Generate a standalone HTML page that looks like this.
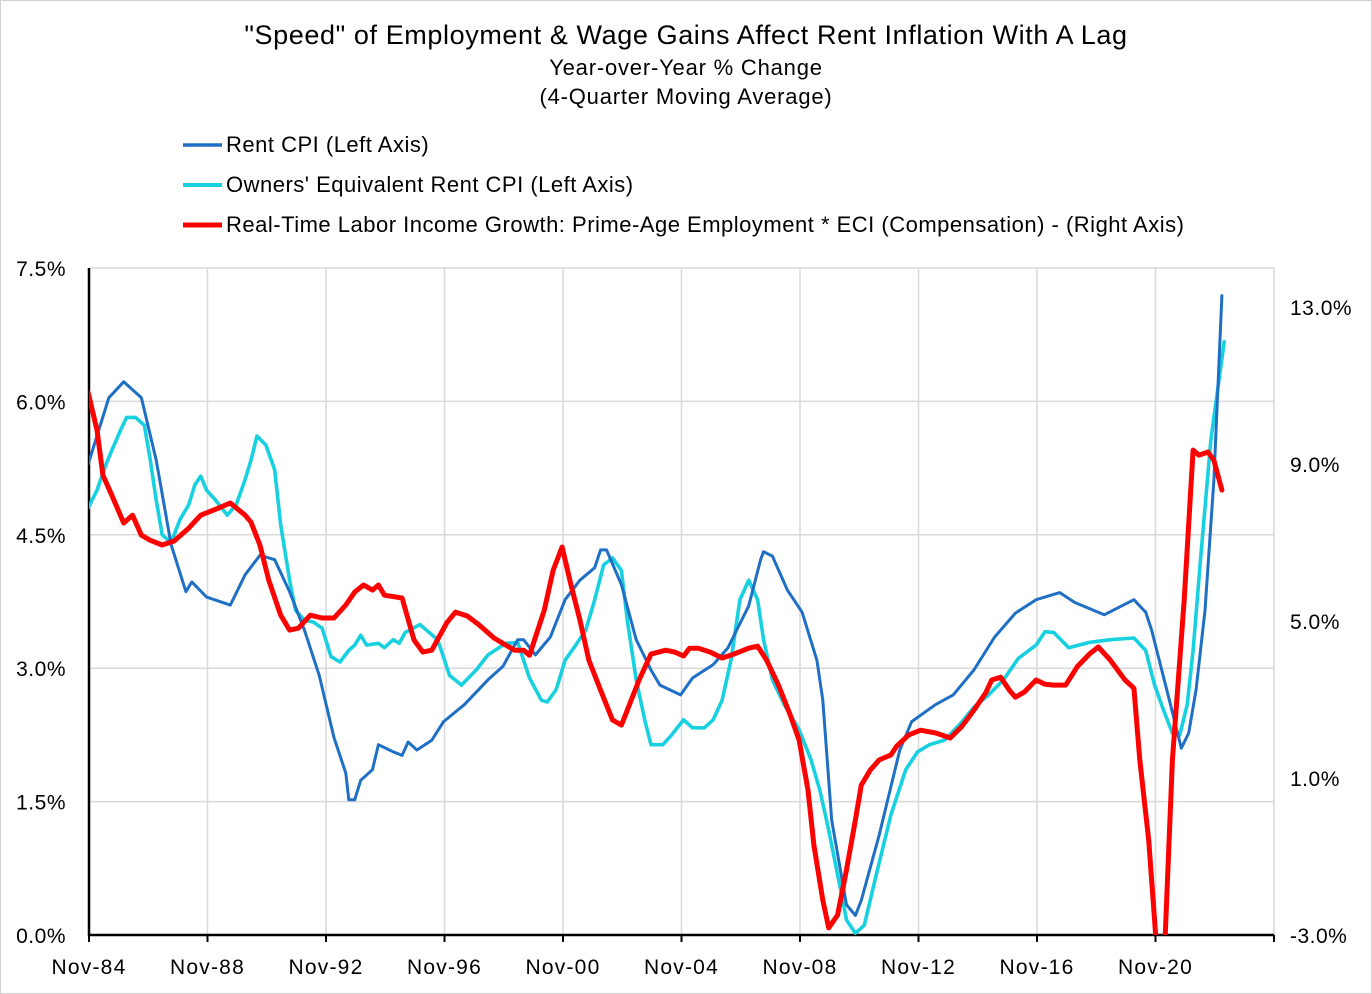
<!DOCTYPE html>
<html><head><meta charset="utf-8"><style>
html,body{margin:0;padding:0;background:#fff;}
body{width:1372px;height:994px;overflow:hidden;position:relative;font-family:"Liberation Sans",sans-serif;}
#frame{position:absolute;left:0;top:0;width:1372px;height:994px;box-sizing:border-box;border:1px solid #d0d0d0;}
svg text{font-family:"Liberation Sans",sans-serif;fill:#000;}
</style></head><body>
<div id="frame"></div>
<svg id="chart" width="1372" height="994" style="position:absolute;left:0;top:0">
<text x="686" y="44" text-anchor="middle" font-size="27" letter-spacing="0.6">"Speed" of Employment &amp; Wage Gains Affect Rent Inflation With A Lag</text>
<text x="686" y="75" text-anchor="middle" font-size="22" letter-spacing="0.8">Year-over-Year % Change</text>
<text x="686" y="104" text-anchor="middle" font-size="22" letter-spacing="0.8">(4-Quarter Moving Average)</text>
<g>
<g><line x1="183" y1="145" x2="222" y2="145" stroke="#1f6fc5" stroke-width="3.5"/><text x="226" y="152" font-size="22" letter-spacing="0.5">Rent CPI (Left Axis)</text></g>
<g><line x1="183" y1="185" x2="222" y2="185" stroke="#17d0e0" stroke-width="4"/><text x="226" y="192" font-size="22" letter-spacing="0.5">Owners' Equivalent Rent CPI (Left Axis)</text></g>
<g><line x1="183" y1="225" x2="222" y2="225" stroke="#ff0000" stroke-width="5"/><text x="226" y="232" font-size="22" letter-spacing="0.5">Real-Time Labor Income Growth: Prime-Age Employment * ECI (Compensation) - (Right Axis)</text></g>
</g>
<g id="grid"></g>
<g id="axes"></g>
<defs><clipPath id="plotclip"><rect x="89" y="262" width="1190" height="673"/></clipPath></defs>
<g id="series" clip-path="url(#plotclip)"></g>
</svg>
<script>
const rentDates=[1984.8,1985.5,1986.0,1986.6,1987.1,1987.6,1988.1,1988.3,1988.8,1989.6,1990.1,1990.6,1991.1,1991.6,1992.1,1992.6,1993.1,1993.5,1993.6,1993.8,1994.0,1994.4,1994.6,1995.1,1995.4,1995.6,1995.9,1996.4,1996.8,1997.5,1998.3,1998.8,1999.3,1999.5,1999.9,2000.4,2000.9,2001.4,2001.9,2002.1,2002.3,2002.8,2003.3,2003.8,2004.1,2004.8,2005.2,2005.9,2006.4,2007.1,2007.5,2007.6,2007.9,2008.4,2008.9,2009.4,2009.6,2009.9,2010.4,2010.7,2010.9,2011.5,2012.2,2012.6,2013.4,2014.0,2014.7,2015.4,2016.1,2016.8,2017.6,2018.1,2019.1,2020.1,2020.5,2020.7,2021.3,2021.7,2021.95,2022.2,2022.5,2022.8,2023.07];
const rentValues=[5.29,6.04,6.22,6.04,5.34,4.39,3.86,3.97,3.80,3.71,4.05,4.27,4.22,3.86,3.43,2.92,2.22,1.82,1.52,1.52,1.74,1.86,2.14,2.06,2.02,2.17,2.08,2.19,2.40,2.59,2.87,3.02,3.32,3.32,3.15,3.35,3.77,3.99,4.13,4.33,4.33,3.94,3.32,2.98,2.81,2.70,2.89,3.04,3.23,3.70,4.22,4.31,4.26,3.88,3.63,3.09,2.64,1.29,0.34,0.22,0.39,1.12,2.08,2.40,2.59,2.70,2.98,3.35,3.62,3.77,3.85,3.74,3.60,3.77,3.63,3.43,2.64,2.10,2.27,2.76,3.65,5.12,7.19];
const oerDates=[1984.8,1985.1,1985.4,1985.6,1985.9,1986.1,1986.4,1986.7,1986.9,1987.1,1987.3,1987.6,1987.9,1988.2,1988.4,1988.6,1988.8,1989.1,1989.5,1989.8,1990.1,1990.3,1990.5,1990.8,1991.1,1991.3,1991.6,1991.8,1992.1,1992.4,1992.7,1993.0,1993.3,1993.6,1993.8,1994.0,1994.2,1994.6,1994.8,1995.1,1995.3,1995.5,1996.0,1996.6,1997.0,1997.4,1997.9,1998.3,1998.9,1999.3,1999.7,2000.1,2000.3,2000.6,2000.9,2001.2,2001.6,2001.9,2002.2,2002.5,2002.8,2003.0,2003.3,2003.6,2003.8,2004.2,2004.5,2004.9,2005.2,2005.6,2005.9,2006.2,2006.5,2006.8,2007.1,2007.4,2007.6,2007.9,2008.3,2008.8,2009.2,2009.5,2009.8,2010.2,2010.4,2010.7,2011.0,2011.4,2011.9,2012.4,2012.8,2013.2,2013.7,2014.2,2014.7,2015.2,2015.7,2016.2,2016.8,2017.1,2017.4,2017.9,2018.6,2019.3,2020.1,2020.5,2020.8,2021.1,2021.4,2021.65,2021.9,2022.1,2022.35,2022.7,2023.15];
const oerValues=[4.80,5.00,5.29,5.45,5.68,5.82,5.82,5.73,5.34,4.89,4.50,4.41,4.67,4.84,5.06,5.16,5.00,4.89,4.72,4.84,5.12,5.34,5.61,5.51,5.23,4.61,3.99,3.65,3.54,3.52,3.45,3.13,3.07,3.20,3.26,3.37,3.26,3.28,3.23,3.32,3.28,3.40,3.49,3.32,2.92,2.81,2.98,3.15,3.28,3.29,2.89,2.64,2.62,2.76,3.09,3.23,3.43,3.77,4.16,4.24,4.10,3.54,2.87,2.40,2.14,2.14,2.25,2.42,2.33,2.33,2.42,2.64,3.09,3.77,3.99,3.77,3.32,2.87,2.59,2.31,1.97,1.63,1.18,0.51,0.17,0.02,0.11,0.67,1.35,1.86,2.06,2.14,2.19,2.36,2.56,2.70,2.87,3.11,3.26,3.41,3.40,3.23,3.29,3.32,3.34,3.20,2.81,2.53,2.27,2.25,2.59,3.20,4.22,5.57,6.67];
const laborDates=[1984.8,1985.1,1985.3,1985.6,1986.0,1986.3,1986.6,1986.9,1987.3,1987.7,1988.2,1988.6,1989.1,1989.6,1990.1,1990.3,1990.6,1990.9,1991.3,1991.6,1991.9,1992.3,1992.7,1993.1,1993.5,1993.8,1994.1,1994.4,1994.6,1994.8,1995.4,1995.8,1996.1,1996.4,1996.9,1997.2,1997.6,1998.0,1998.5,1998.9,1999.2,1999.5,1999.7,2000.2,2000.5,2000.8,2001.1,2001.4,2001.7,2002.1,2002.5,2002.8,2003.0,2003.4,2003.8,2004.3,2004.6,2004.9,2005.1,2005.4,2005.8,2006.2,2006.6,2007.1,2007.4,2007.7,2008.1,2008.5,2008.8,2009.1,2009.3,2009.6,2009.8,2010.1,2010.4,2010.7,2010.9,2011.2,2011.5,2011.9,2012.1,2012.5,2012.9,2013.4,2013.9,2014.3,2014.7,2015.1,2015.3,2015.6,2015.9,2016.1,2016.4,2016.8,2017.1,2017.4,2017.8,2018.2,2018.6,2018.9,2019.3,2019.8,2020.1,2020.3,2020.6,2020.85,2021.0,2021.15,2021.4,2021.8,2022.1,2022.3,2022.6,2022.8,2023.07];
const laborValues=[10.83,9.87,8.72,8.21,7.50,7.70,7.19,7.06,6.94,7.04,7.37,7.70,7.85,8.01,7.70,7.52,6.94,6.04,5.15,4.77,4.82,5.15,5.08,5.08,5.41,5.74,5.92,5.79,5.92,5.66,5.59,4.52,4.21,4.26,4.95,5.23,5.13,4.90,4.57,4.39,4.26,4.26,4.13,5.28,6.30,6.89,5.92,5.03,4.01,3.24,2.48,2.35,2.73,3.50,4.16,4.26,4.21,4.11,4.31,4.31,4.21,4.06,4.16,4.31,4.36,4.01,3.37,2.61,1.97,0.69,-0.71,-2.11,-2.82,-2.49,-1.34,-0.07,0.82,1.20,1.46,1.59,1.82,2.10,2.22,2.15,2.02,2.32,2.73,3.17,3.50,3.57,3.24,3.06,3.19,3.50,3.39,3.37,3.37,3.85,4.16,4.34,4.01,3.50,3.29,1.46,-0.58,-3.4,-6.0,-3.4,1.46,5.54,9.36,9.23,9.31,9.10,8.34];
const leftTicks=[0,1.5,3.0,4.5,6.0,7.5];
const leftTickLabels=["0.0%","1.5%","3.0%","4.5%","6.0%","7.5%"];
const rightTicks=[-3,1,5,9,13];
const rightTickLabels=["-3.0%","1.0%","5.0%","9.0%","13.0%"];
const xTicks=[1984.83,1988.83,1992.83,1996.83,2000.83,2004.83,2008.83,2012.83,2016.83,2020.83,2024.83];
const xTickLabels=["Nov-84","Nov-88","Nov-92","Nov-96","Nov-00","Nov-04","Nov-08","Nov-12","Nov-16","Nov-20",""];

const PL=89,PR=1274,PT=268,PB=935;
const X0=1984.83,X1=2024.83;
function xs(d){return PL+(d-X0)/(X1-X0)*(PR-PL);}
function yl(v){return PB-(v-0)/(7.5-0)*(PB-PT);}
function yr(v){return PB-(v+3)/(14+3)*(PB-PT);}
function clampY(y){return Math.max(PT-4,Math.min(PB+6,y));}
const NS="http://www.w3.org/2000/svg";
function mk(tag,attrs,parent){const e=document.createElementNS(NS,tag);for(const k in attrs)e.setAttribute(k,attrs[k]);parent.appendChild(e);return e;}
const grid=document.getElementById('grid'),axes=document.getElementById('axes'),series=document.getElementById('series');
leftTicks.forEach((t,i)=>{
  if(t>0){const g=mk('line',{x1:PL,x2:PR,y1:yl(t),y2:yl(t),stroke:'#d9d9d9','stroke-width':1.5},grid);
  
  }
  const tx=mk('text',{x:66,y:yl(t)+8,'text-anchor':'end','font-size':21,'letter-spacing':0.5},axes);tx.textContent=leftTickLabels[i];
  
  
});
rightTicks.forEach((t,i)=>{
  const tx=mk('text',{x:1290,y:yr(t)+8,'font-size':21,'letter-spacing':0.5},axes);tx.textContent=rightTickLabels[i];
  
  
});
xTicks.forEach((t,i)=>{
  const x=xs(t);
  if(i>0){const g=mk('line',{x1:x,x2:x,y1:PT,y2:PB,stroke:'#d9d9d9','stroke-width':1.5},grid);
  
  }
  const tk=mk('line',{x1:x,x2:x,y1:PB,y2:PB+7,stroke:'#000','stroke-width':2},axes);
  
  
  if(xTickLabels[i]){const tx=mk('text',{x:x,y:974,'text-anchor':'middle','font-size':21,'letter-spacing':1.2},axes);tx.textContent=xTickLabels[i];
  
  }
});
const la=mk('line',{x1:PL,x2:PL,y1:PT,y2:PB+1,stroke:'#000','stroke-width':2.5},axes);


const ba=mk('line',{x1:PL-1,x2:PR,y1:PB,y2:PB,stroke:'#000','stroke-width':2.5},axes);


function line(dates,vals,yf,color,w,name){
  const pts=dates.map((d,i)=>xs(d).toFixed(1)+','+clampY(yf(vals[i])).toFixed(1)).join(' ');
  const p=mk('polyline',{points:pts,fill:'none',stroke:color,'stroke-width':w,'stroke-linejoin':'round','stroke-linecap':'round'},series);
  
  
}
line(oerDates,oerValues,yl,'#17d0e0',3.6,'oer-cpi-line');
line(rentDates,rentValues,yl,'#1f6fc5',3,'rent-cpi-line');
line(laborDates,laborValues,yr,'#ff0000',5,'labor-income-line');
</script>
</body></html>
